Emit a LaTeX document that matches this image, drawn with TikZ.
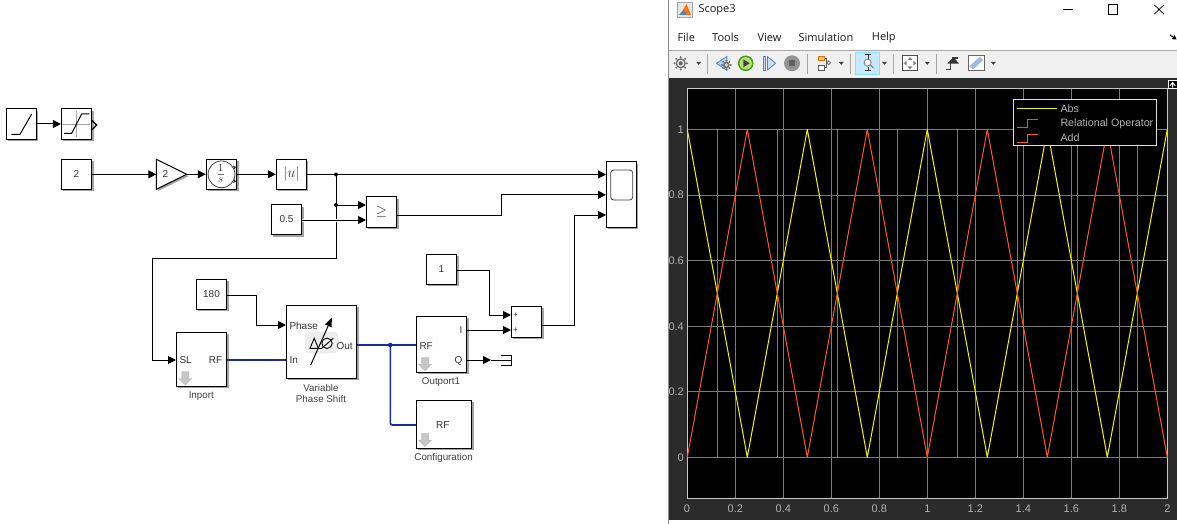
\documentclass[tikz,border=0pt]{standalone}
\usepackage{fontspec}
\setmainfont{Liberation Sans}
\newfontfamily\uifont{Open Sans}
\usetikzlibrary{arrows.meta,shadows,calc}
\definecolor{bluesig}{HTML}{1A2B9C}
\definecolor{panel}{HTML}{2B2B2B}
\definecolor{scblue}{HTML}{0A9BFF}
\definecolor{scyellow}{HTML}{F5F50A}
\definecolor{scred}{HTML}{FF5A1E}
\definecolor{axisc}{HTML}{C8C8C8}
\definecolor{gridc}{HTML}{7A7A7A}
\definecolor{tickc}{HTML}{B4B4B4}
\definecolor{iconb}{HTML}{4A86C8}
\tikzset{
  blk/.style={draw=black,line width=1pt,fill=white,inner sep=0pt,
    font=\fontsize{10}{12}\selectfont,text=black!80,
    drop shadow={shadow xshift=1.8pt,shadow yshift=-2pt,fill=black!60,opacity=.6}},
  ghost/.style={inner sep=0pt,outer sep=0pt},
  sig/.style={line width=1pt,draw=black,-{Triangle[length=8pt,width=8pt]}},
  wire/.style={line width=1pt,draw=black},
  rf/.style={line width=1.6pt,draw=bluesig},
  lbl/.style={inner sep=0pt,font=\fontsize{10}{12}\selectfont,text=black!80},
  blkcap/.style={inner sep=0pt,font=\fontsize{9.8}{11.6}\selectfont,text=black!75,align=center},
  dot/.style={circle,fill=black,inner sep=0pt,minimum size=4pt},
  rfdot/.style={circle,fill=bluesig,inner sep=0pt,minimum size=4.6pt},
  icon/.style={line width=1pt,draw=black},
  ticklab/.style={inner sep=0pt,font=\fontsize{11}{13}\selectfont,text=tickc},
  leg/.style={inner sep=0pt,anchor=west,font=\fontsize{10.7}{13}\selectfont,text=tickc},
  menu/.style={inner sep=0pt,anchor=west,font=\uifont\fontsize{11}{13}\selectfont,text=black!90},
  toolsep/.style={line width=0.8pt,draw=black!35},
  dropm/.style={fill=black!75,draw=none},
  gray arrow/.style={fill=black!22,draw=black!28,line width=0.3pt},
}
\newcommand{\grayarrow}[3]{% centre x, top y, bottom y
  \path[gray arrow] (#1-3.6,#2) -- (#1+3.6,#2) -- (#1+3.6,#2+6.8) -- (#1+6.6,#2+6.8) -- (#1,#3) -- (#1-6.6,#2+6.8) -- (#1-3.6,#2+6.8) -- cycle;}
\newcommand{\dropmark}[1]{\path[dropm] (#1-2.6,61.8) -- (#1+2.6,61.8) -- (#1,64.8) -- cycle;}
\newcommand{\geartool}[3]{% x y r
  \fill[black!55] (#1,#2) circle[radius=#3 pt];
  \foreach \a in {0,45,...,315}{\fill[black!55] ($(#1,#2)+(\a:#3 pt+1pt)$) circle[radius=1.1pt];}
  \fill[black!12] (#1,#2) circle[radius=#3 pt-1.6pt];
  \fill[black!60] (#1,#2) circle[radius=#3 pt-3.2pt];}
\begin{document}
\begin{tikzpicture}[x=1pt,y=-1pt]
\useasboundingbox (0,0) rectangle (1177,524);
\fill[white] (0,0) rectangle (1177,524);

% ---------- Simulink blocks ----------
\node[blk,minimum width=30.4pt,minimum height=30pt] (ramp) at (21.4,124) {};
\node[blk,minimum width=30.4pt,minimum height=30pt] (sat) at (76.5,124) {};
\node[blk,minimum width=30.4pt,minimum height=30pt] (c2) at (76.5,174.3) {2};
\node[ghost,minimum width=30.4pt,minimum height=30pt] (gain) at (171.5,174.3) {};
\node[blk,minimum width=30.4pt,minimum height=30pt] (int) at (221.5,174.3) {};
\node[blk,minimum width=30pt,minimum height=30pt,font=\fontsize{14}{16}\selectfont] (abs) at (291.3,174.3) {$|u|$};
\node[blk,minimum width=30.4pt,minimum height=30pt] (c05) at (286.5,219.5) {0.5};
\node[blk,minimum width=30.4pt,minimum height=30.6pt,font=\fontsize{14}{16}\selectfont] (rel) at (381.5,212) {$\geq$};
\node[blk,minimum width=30pt,minimum height=65.6pt] (scope) at (621.3,194.5) {};
\node[blk,minimum width=30.4pt,minimum height=30pt] (c1) at (441.5,269.3) {1};
\node[blk,minimum width=30.4pt,minimum height=31pt] (sum) at (526.5,321.8) {};
\node[blk,minimum width=30.4pt,minimum height=30pt] (c180) at (211.5,294.3) {180};
\node[blk,minimum width=70.4pt,minimum height=73pt] (vps) at (321.5,341.8) {};
\node[blk,minimum width=50.4pt,minimum height=54pt] (inport) at (201.5,359.3) {};
\node[blk,minimum width=50.4pt,minimum height=56pt] (outp) at (441.5,344.3) {};
\node[blk,minimum width=55.4pt,minimum height=48pt] (conf) at (444,424.3) {};

% gain triangle
\path[fill=black!60,opacity=.6] (158,161) -- (188.6,176.2) -- (158,191) -- cycle;
\draw[icon,fill=white,line join=miter] (gain.north west) -- (gain.east) -- (gain.south west) -- cycle;
\node[lbl] (gaintxt) at (165.5,174.3) {2};

% ports (free ends)
\coordinate (s1) at (606,174.5);
\coordinate (s2) at (606,194.8);
\coordinate (s3) at (606,215);
\coordinate (r1) at (366,205);
\coordinate (r2) at (366,220);
\coordinate (a1) at (511,315);
\coordinate (a2) at (511,330);
\coordinate (phase) at (286,325);
\coordinate (insl) at (176,360);
\coordinate (vin) at (286.3,360);
\coordinate (vout) at (356.7,345);
\coordinate (orf) at (416.3,345);
\coordinate (crf) at (416.3,425);
\coordinate (oi) at (466.7,330);
\coordinate (oq) at (466.7,360);
\coordinate (irf) at (226.7,360);
\coordinate (term) at (491,360);
\coordinate (j1) at (336,174.5);
\coordinate (j2) at (336,205);
\coordinate (j3) at (390.3,345);
\coordinate (c05o) at (301.7,220);
\coordinate (relo) at (396.7,215.3);
\coordinate (sumo) at (541.7,325);

% connectors
\draw[sig] (ramp) -- (sat);
\draw[sig] (c2) -- (gain.west);
\draw[sig] (gain.east) -- (int);
\draw[sig] (int) -- (abs);
\draw[wire] (j1) -- (336,258.3) -- (152.3,258.3) -- (152.3,360);
\draw[sig] (152.3,360) -- (insl);
\draw[sig] (abs.east |- j1) -- (s1);
\draw[sig] (j2) -- (r1);
\draw[sig,preaction={draw=white,line width=3pt}] (c05o) -- (r2);
\draw[sig] (relo) -- (501.3,215.3) -- (501.3,194.8) -- (s2);
\draw[sig] (sumo) -- (574.3,325) -- (574.3,215) -- (s3);
\draw[sig] (c1.east |- 0,270.3) -- (489.3,270.3) -- (489.3,315) -- (a1);
\draw[sig] (oi) -- (a2);
\draw[sig] (c180.east |- 0,295) -- (256.3,295) -- (256.3,325) -- (phase);
\draw[sig] (oq) -- (term);
\draw[rf] (irf) -- (vin);
\draw[rf] (vout) -- (orf);
\draw[rf,rounded corners=2pt] (j3) -- (390.3,425) -- (crf);
\node[dot] (d1) at (j1) {};
\node[dot] (d2) at (j2) {};
\node[rfdot] (d3) at (j3) {};

% terminator
\draw[wire] (term) -- (511,360);
\draw[wire] (501,355) -- (511,355) -- (511,365.3) -- (501,365.3);

% ramp icon
\draw[icon] (11.3,134.3) -- (20,134.3) -- (31.7,114);
% saturation icon
\draw[line width=0.7pt,draw=black!35] (76.7,111) -- (76.7,137) (63,124.3) -- (90,124.3);
\draw[icon] (64,133.3) -- (71.7,133.3) -- (81.7,114) -- (89.3,114);
\draw[line width=1.3pt,draw=black] (92,120.5) -- (96.6,125) -- (92,129.8);
% integrator icon
\draw[line width=0.8pt,draw=black!75] (221.5,174.3) circle[radius=13.4pt];
\fill[black!80] (234.4,169.4) -- (233,165.4) -- (236,167) -- cycle;
\fill[black!80] (234.4,179.2) -- (233,183.2) -- (236,181.6) -- cycle;
\draw[line width=0.8pt,draw=black!60] (217.6,174.8) -- (223.6,174.8);
\node[lbl] (one) at (220.6,168) {\fontsize{11}{12}\selectfont $1$};
\node[lbl] (ess) at (220.6,180.6) {\fontsize{11}{12}\selectfont $s$};
% scope screen
\draw[line width=0.8pt,draw=black!75,rounded corners=3pt] (610.7,170) rectangle (632.7,200);
% sum signs
\node[lbl] (p1) at (515.8,315.2) {\fontsize{8}{9}\selectfont +};
\node[lbl] (p2) at (515.8,330.2) {\fontsize{8}{9}\selectfont +};
% vps texts
\fill[black!7,rounded corners=4pt] (305,331.7) rectangle (338.3,353.3);
\draw[line width=0.9pt,line join=miter] (310,348.3) -- (314.2,338.3) -- (318.4,348.3) -- cycle;
\draw[line width=0.9pt] (318.4,348.3) -- (322,348.3);
\draw[line width=0.9pt] (327,343.3) circle[radius=5.2pt];
\draw[line width=0.9pt] (321.7,348.3) -- (333.3,338.3);
\draw[line width=1pt,-{Triangle[length=9pt,width=7pt]}] (310.7,365) -- (331.9,317.6);
\node[lbl,anchor=west] (tphase) at (289.3,325.5) {Phase};
\node[lbl,anchor=west] (tin) at (289.3,360.5) {In};
\node[lbl,anchor=east] (tout) at (352.9,345.8) {Out};
\node[lbl,anchor=west] (tsl) at (179.3,360.5) {SL};
\node[lbl,anchor=east] (trf1) at (222.4,360.5) {RF};
\node[lbl,anchor=west] (trf2) at (419.3,345.8) {RF};
\node[lbl,anchor=east] (ti) at (462.7,330.5) {I};
\node[lbl,anchor=east] (tq) at (462.7,360.5) {Q};
\node[lbl] (trf3) at (442.8,425.5) {RF};
\grayarrow{185.3}{371.7}{385.2}
\grayarrow{425}{357.3}{371}
\grayarrow{425}{433.3}{446.7}
\node[blkcap] (cin) at (201.3,396) {Inport};
\node[blkcap] (cvps) at (321,393.6) {Variable\\Phase Shift};
\node[blkcap] (cout) at (441,382) {Outport1};
\node[blkcap] (ccfg) at (443.6,458) {Configuration};

% ---------- Scope window ----------
\fill[white] (668,0) rectangle (1177,524);
\fill[black!45] (667.6,0) rectangle (668.8,524);
\fill[black!6] (669,51) rectangle (1177,78);
\draw[line width=0.9pt,draw=black!35] (669,50.6) -- (1177,50.6);
\fill[panel] (669,77.6) rectangle (1177,520.4);

% title bar
\fill[black!10] (677.3,2.2) rectangle (692.7,17);
\draw[line width=0.5pt,draw=black!35] (677.3,2.2) rectangle (692.7,17);
\fill[iconb] (679,15) -- (684,9) -- (687,15) -- cycle;
\fill[orange!90!red] (683,10) -- (686.4,4) -- (691,15) -- (687.4,15) -- cycle;
\node[menu] (ttl) at (698.3,10) {Scope3};
\draw[line width=0.8pt,draw=black] (1063.3,9.4) -- (1073.3,9.4);
\draw[line width=0.8pt,draw=black] (1108.4,4.8) rectangle (1117.6,14);
\draw[line width=0.7pt,draw=black] (1154.2,4.8) -- (1164,14.2) (1164,4.8) -- (1154.2,14.2);
\draw[line width=1pt,-{Triangle[length=4pt,width=4.5pt]}] (1170,35) -- (1176.6,39.4);

% menu
\node[menu] (mfile) at (677.3,37.8) {File};
\node[menu] (mtools) at (712,37.8) {Tools};
\node[menu] (mview) at (757.3,37.8) {View};
\node[menu] (msim) at (798.3,37.8) {Simulation};
\node[menu] (mhelp) at (871.7,37.8) {Help};

% toolbar
\geartool{680.7}{63.3}{5.2}
\dropmark{698.7}
\draw[toolsep] (707.3,54) -- (707.3,74);
\draw[line width=0.8pt,draw=iconb,fill=iconb!35] (716.6,63.3) -- (727,56.4) -- (727,70.4) -- cycle;
\geartool{726.3}{65}{3.4}
\definecolor{playo}{HTML}{4F9A1E}
\definecolor{playi}{HTML}{B5E27A}
\fill[playo] (745.7,63.3) circle[radius=7.8pt];
\fill[playi] (745.7,63.3) circle[radius=6.2pt];
\fill[black!75] (743.3,59.3) -- (749.6,63.3) -- (743.3,67.3) -- cycle;
\draw[line width=0.8pt,draw=iconb,fill=iconb!25] (763,56.6) rectangle (765.6,70);
\draw[line width=0.8pt,draw=iconb,fill=iconb!25] (767.4,56.6) -- (775.6,63.3) -- (767.4,70) -- cycle;
\fill[black!42] (792,63.3) circle[radius=8pt];
\fill[black!62] (789,60.3) rectangle (795,66.3);
\draw[toolsep] (807.3,54) -- (807.3,74);
\draw[line width=0.7pt,draw=orange!90!black,fill=orange!45] (818,56) rectangle (824.7,60.6);
\draw[line width=0.7pt,draw=black!65,fill=white] (818,65.6) rectangle (824.7,70);
\draw[line width=0.6pt,draw=black!65] (824.7,58.3) -- (826.5,58.3) -- (826.5,67.8) -- (824.7,67.8);
\draw[line width=0.6pt,draw=black!65,fill=white] (828.7,62.8) circle[radius=1.9pt];
\dropmark{841.2}
\draw[toolsep] (850.7,54) -- (850.7,74);
\draw[line width=0.8pt,draw=blue!30!cyan!45,fill=blue!40!cyan!22] (855,52.4) rectangle (879,74);
\draw[line width=0.8pt,draw=black!80] (865,54.6) -- (871,54.6) (868,54.6) -- (868,59) (865,70.6) -- (871,70.6) (868,70.6) -- (868,66.6);
\draw[line width=0.9pt,draw=black!50,fill=white] (867.6,62.6) circle[radius=3.5pt];
\draw[line width=1.1pt,draw=black!50] (870.2,65) -- (873.4,67.8);
\dropmark{884.4}
\draw[toolsep] (893.3,54) -- (893.3,74);
\draw[line width=0.7pt,draw=black!70,fill=white] (902.3,55.7) rectangle (917.7,70.7);
\fill[black!50] (910,57) -- (912.4,60) -- (907.6,60) -- cycle (910,69.4) -- (912.4,66.4) -- (907.6,66.4) -- cycle
  (903.6,63.2) -- (906.6,60.8) -- (906.6,65.6) -- cycle (916.4,63.2) -- (913.4,60.8) -- (913.4,65.6) -- cycle;
\dropmark{927.3}
\draw[toolsep] (936.7,54) -- (936.7,74);
\draw[line width=1.6pt,draw=black!75] (945.8,69.4) -- (950.6,69.4) -- (950.6,62.6);
\draw[line width=1.6pt,draw=black!75] (950.6,62.6) -- (953,62.6) -- (953,57.8) -- (958,57.8);
\fill[black!80] (947.4,63.6) -- (953.4,57) -- (959,63.6) -- cycle;
\draw[line width=0.7pt,draw=black!60,fill=white] (968.3,55.7) rectangle (984,70.7);
\fill[iconb!55] (969.8,66) -- (979.8,56.6) -- (983,60) -- (973,69.6) -- cycle;
\dropmark{993.3}

% plot area
\fill[black] (687.3,88.3) rectangle (1167.3,498.3);
\foreach \x in {735.3,783.3,...,1119.3}
  \draw[line width=0.7pt,draw=gridc] (\x,88.3) -- (\x,498.3);
\foreach \y in {129.3,194.9,260.5,326.1,391.7,457.3}
  \draw[line width=0.7pt,draw=gridc] (687.3,\y) -- (1167.3,\y);
\draw[line width=0.9pt,draw=axisc] (687.3,88.3) rectangle (1167.3,498.3);
% curves
\draw[line width=1pt,draw=scblue,line join=miter] (687.3,129.3) -- (717.3,129.3) -- (717.3,457.3) -- (777.3,457.3) -- (777.3,129.3) -- (837.3,129.3) -- (837.3,457.3) -- (897.3,457.3) -- (897.3,129.3) -- (957.3,129.3) -- (957.3,457.3) -- (1017.3,457.3) -- (1017.3,129.3) -- (1077.3,129.3) -- (1077.3,457.3) -- (1137.3,457.3) -- (1137.3,129.3) -- (1167.3,129.3);
\draw[line width=1pt,draw=scyellow,line join=round] (687.3,129.3) -- (747.3,457.3) -- (807.3,129.3) -- (867.3,457.3) -- (927.3,129.3) -- (987.3,457.3) -- (1047.3,129.3) -- (1107.3,457.3) -- (1167.3,129.3);
\draw[line width=1pt,draw=scred,line join=round] (687.3,457.3) -- (747.3,129.3) -- (807.3,457.3) -- (867.3,129.3) -- (927.3,457.3) -- (987.3,129.3) -- (1047.3,457.3) -- (1107.3,129.3) -- (1167.3,457.3);
% tick labels
\node[ticklab] (x0) at (687,508.6) {0};
\node[ticklab] (x1) at (735.3,508.6) {0.2};
\node[ticklab] (x2) at (783.3,508.6) {0.4};
\node[ticklab] (x3) at (831.3,508.6) {0.6};
\node[ticklab] (x4) at (879.3,508.6) {0.8};
\node[ticklab] (x5) at (927.3,508.6) {1};
\node[ticklab] (x6) at (975.3,508.6) {1.2};
\node[ticklab] (x7) at (1023.3,508.6) {1.4};
\node[ticklab] (x8) at (1071.3,508.6) {1.6};
\node[ticklab] (x9) at (1119.3,508.6) {1.8};
\node[ticklab] (x10) at (1167.3,508.6) {2};
\node[ticklab,anchor=east] (y5) at (684,129.6) {1};
\node[ticklab,anchor=east] (y4) at (684,195.2) {0.8};
\node[ticklab,anchor=east] (y3) at (684,260.8) {0.6};
\node[ticklab,anchor=east] (y2) at (684,326.4) {0.4};
\node[ticklab,anchor=east] (y1) at (684,392) {0.2};
\node[ticklab,anchor=east] (y0) at (684,457.6) {0};
% legend
\draw[line width=0.8pt,draw=black!12,fill=black] (1013.3,99.3) rectangle (1156.7,145.3);
\draw[line width=1pt,draw=scyellow] (1017.3,108.3) -- (1057.3,108.3);
\draw[line width=1pt,draw=scblue] (1017.3,127.7) -- (1027.3,127.7) -- (1027.3,119.3) -- (1037.7,119.3);
\draw[line width=1pt,draw=scred] (1017.3,142.3) -- (1027.3,142.3) -- (1027.3,134.3) -- (1037.7,134.3);
\node[leg] (labs) at (1060.3,108.3) {Abs};
\node[leg] (lrel) at (1060.3,123.3) {Relational Operator};
\node[leg] (ladd) at (1060.3,137.3) {Add};
% corner icon
\fill[black] (1168,80) rectangle (1177,89);
\draw[line width=0.7pt,draw=white] (1168.3,80.3) rectangle (1177.5,88.6);
\draw[line width=0.9pt,draw=white] (1170,85.8) -- (1172.6,82.4) -- (1175.2,85.8) (1172.6,82.4) -- (1172.6,87.6);
\end{tikzpicture}
\end{document}
